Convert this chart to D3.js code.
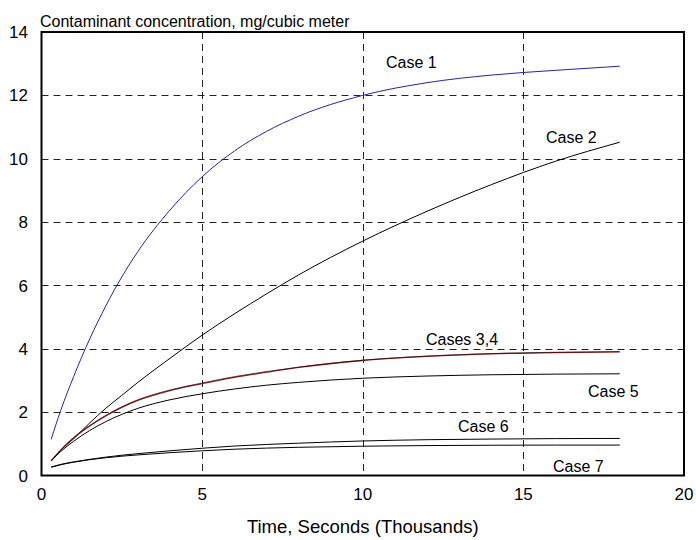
<!DOCTYPE html>
<html>
<head>
<meta charset="utf-8">
<script src="https://cdn.jsdelivr.net/npm/d3@7"></script>
<style>
  html, body { margin: 0; padding: 0; background: #fff; }
  svg text { font-family: "Liberation Sans", Arial, sans-serif; fill: #000; }
</style>
</head>
<body>
<svg id="chart" width="696" height="540"></svg>
<script>
// ---- data ----
const times  = [0.3, 0.6, 1, 1.5, 2, 2.5, 3, 4, 5, 6, 7, 8, 10, 12, 14, 16, 18];
const case1  = [1.14, 2.06, 3.12, 4.31, 5.35, 6.27, 7.07, 8.38, 9.43, 10.24, 10.86, 11.34, 12.0, 12.4, 12.64, 12.79, 12.92];
const case2  = [0.46, 0.8, 1.16, 1.66, 2.12, 2.53, 2.94, 3.7, 4.43, 5.1, 5.73, 6.33, 7.4, 8.34, 9.18, 9.92, 10.52];
const case3  = [0.46, 0.8, 1.18, 1.56, 1.88, 2.15, 2.37, 2.68, 2.9, 3.1, 3.26, 3.41, 3.63, 3.76, 3.84, 3.88, 3.9];
const case4  = [0.47, 0.81, 1.2, 1.58, 1.9, 2.17, 2.39, 2.7, 2.92, 3.12, 3.28, 3.42, 3.64, 3.77, 3.85, 3.89, 3.91];
const case5  = [0.46, 0.76, 1.08, 1.42, 1.7, 1.93, 2.12, 2.39, 2.58, 2.73, 2.85, 2.94, 3.07, 3.14, 3.18, 3.2, 3.21];
const case6  = [0.27, 0.35, 0.43, 0.51, 0.58, 0.64, 0.69, 0.78, 0.86, 0.93, 0.98, 1.02, 1.09, 1.13, 1.15, 1.165, 1.17];
const case7  = [0.26, 0.34, 0.42, 0.5, 0.56, 0.61, 0.65, 0.72, 0.78, 0.83, 0.865, 0.89, 0.925, 0.945, 0.955, 0.96, 0.96];

const seriesNames  = ["Case 1", "Case 2", "Case 3", "Case 4", "Case 5", "Case 6", "Case 7"];
const seriesValues = [case1, case2, case3, case4, case5, case6, case7];
const seriesColors = ["#2424a8", "#000000", "#9a2020", "#000000", "#000000", "#000000", "#000000"];

const xTicks = [0, 5, 10, 15, 20];
const yTicks = [0, 2, 4, 6, 8, 10, 12, 14];
const xGrid  = [5, 10, 15];
const yGrid  = [2, 4, 6, 8, 10, 12];

const labelTexts = ["Case 1", "Case 2", "Cases 3,4", "Case 5", "Case 6", "Case 7"];

const titleText = "Contaminant concentration, mg/cubic meter";
const xTitle    = "Time, Seconds (Thousands)";

// ---- layout ----
const svg = d3.select("#chart");
const plotL = 41.5, plotR = 684, plotT = 32, plotB = 475.5;
const x = d3.scaleLinear().domain([0, 20]).range([plotL, plotR]);
const y = d3.scaleLinear().domain([0, 14]).range([plotB, plotT]);

// grid
svg.append("g").selectAll("line").data(yGrid).join("line")
  .attr("x1", plotL).attr("x2", plotR)
  .attr("y1", d => Math.round(y(d)) + 0.5).attr("y2", d => Math.round(y(d)) + 0.5)
  .attr("stroke", "#222").attr("stroke-width", 1).attr("stroke-dasharray", "7,5");
svg.append("g").selectAll("line").data(xGrid).join("line")
  .attr("y1", plotT).attr("y2", plotB)
  .attr("x1", d => Math.round(x(d)) + 0.5).attr("x2", d => Math.round(x(d)) + 0.5)
  .attr("stroke", "#222").attr("stroke-width", 1).attr("stroke-dasharray", "7,5");

// lines
const line = d3.line().x((d, i) => x(times[i])).y(d => y(d)).curve(d3.curveMonotoneX);
svg.append("g").selectAll("path").data(seriesValues).join("path")
  .attr("d", d => line(d))
  .attr("fill", "none")
  .attr("stroke", (d, i) => seriesColors[i])
  .attr("stroke-width", (d, i) => i === 2 ? 1.3 : (i === 3 ? 0.6 : 1));

// frame
svg.append("rect").attr("x", plotL).attr("y", plotT)
  .attr("width", plotR - plotL).attr("height", plotB - plotT)
  .attr("fill", "none").attr("stroke", "#000").attr("stroke-width", 2);

// axes labels
svg.append("g").selectAll("text").data(yTicks).join("text")
  .attr("x", 28).attr("y", d => y(d)).attr("dy", "0.36em")
  .attr("text-anchor", "end").attr("font-size", 17).text(d => d);
svg.append("g").selectAll("text").data(xTicks).join("text")
  .attr("x", d => x(d)).attr("y", 500)
  .attr("text-anchor", "middle").attr("font-size", 17).text(d => d);

svg.append("text").attr("x", 40).attr("y", 26.5).attr("font-size", 16).text(titleText);
svg.append("text").attr("x", (plotL + plotR) / 2).attr("y", 533)
  .attr("text-anchor", "middle").attr("font-size", 18.5).text(xTitle);

// case labels
const labelPos = [[386, 68], [546, 142.5], [426, 345], [588, 397], [458, 431.5], [553, 472]];
svg.append("g").selectAll("text").data(labelTexts).join("text")
  .attr("x", (d, i) => labelPos[i][0]).attr("y", (d, i) => labelPos[i][1])
  .attr("font-size", 16).text(d => d);
</script>
</body>
</html>
